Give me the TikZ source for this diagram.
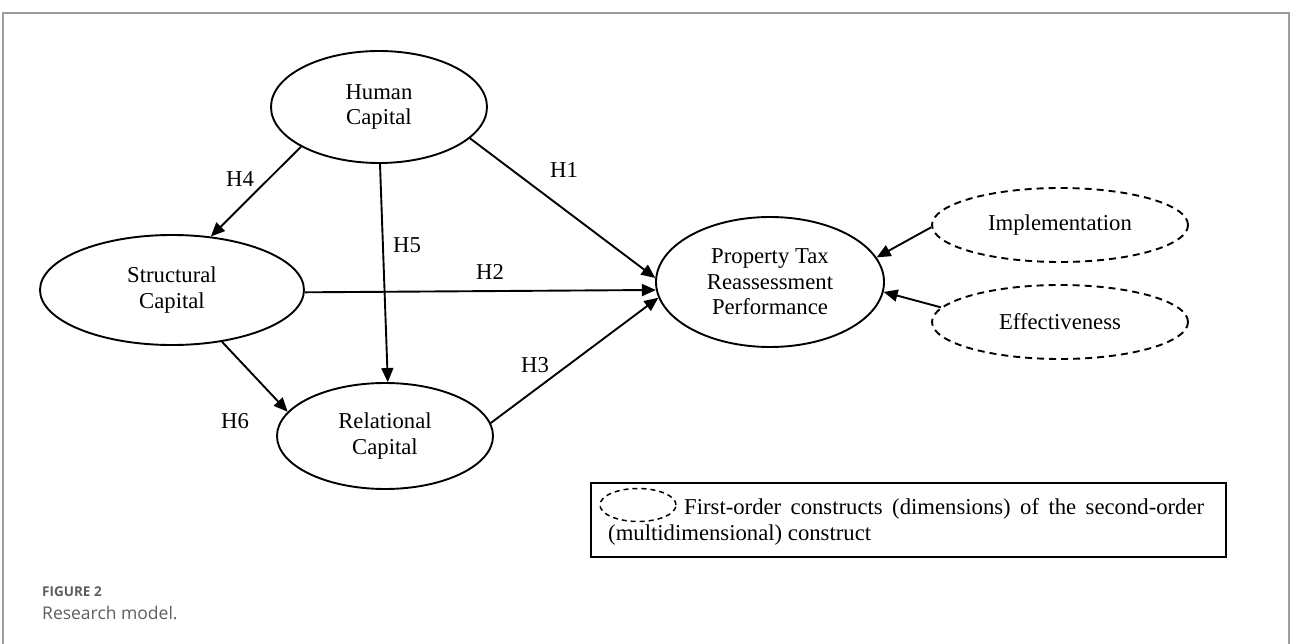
\documentclass[tikz,border=0pt]{standalone}
\usepackage{fontspec}
\setmainfont{Liberation Serif}
\newfontfamily\capfont{Open Sans}
\usetikzlibrary{shapes.geometric,arrows.meta}
\newcommand\mainfs{\fontsize{22.7}{25.5}\selectfont}
\definecolor{framegray}{HTML}{9C9C9C}
\definecolor{capgray}{HTML}{5E5E5E}
\begin{document}
\begin{tikzpicture}[x=1pt,y=-1pt,
  construct/.style={ellipse, draw, line width=1.9pt, inner sep=0pt, align=center, font=\mainfs},
  dimension/.style={construct, dash pattern=on 7pt off 5pt},
  link/.style={line width=1.9pt, -{Triangle[length=14pt,width=12pt]}},
  hyp/.style={font=\mainfs, inner sep=0pt}]
\useasboundingbox (0,0) rectangle (1293,644);
% outer frame
\draw[framegray, line width=1.5pt] (3,644) -- (3,13) -- (1289,13) -- (1289,644);

% constructs
\node[construct, minimum width=216pt, minimum height=112pt] (human) at (379,107) {Human\\Capital};
\node[construct, minimum width=264pt, minimum height=110pt] (struct) at (172,290) {Structural\\Capital};
\node[construct, minimum width=216pt, minimum height=106pt] (rel) at (385,436) {Relational\\Capital};
\node[construct, minimum width=228pt, minimum height=130pt] (prop) at (770,282) {Property Tax\\Reassessment\\Performance};
\node[dimension, minimum width=256pt, minimum height=74pt] (impl) at (1060,225) {Implementation};
\node[dimension, minimum width=256pt, minimum height=74pt] (eff) at (1060,322) {Effectiveness};

% hypotheses paths
\draw[link] (human.-19.8) -- (prop.178.5);
\draw[link] (struct.-1.3) -- (prop.184);
\draw[link] (rel.7.6) -- (prop.188.8);
\draw[link] (human.207.5) -- (struct.54.5);
\draw[link] (human.-89) -- (rel.87.8);
\draw[link] (struct.-46) -- (rel.166.8);
\draw[link] (impl.181.3) -- (prop.13);
\draw[link] (eff.173.5) -- (prop.-5.5);

% hypothesis labels
\node[hyp] (h1) at (564,170) {H1};
\node[hyp] (h2) at (490,272) {H2};
\node[hyp] (h3) at (535,365) {H3};
\node[hyp] (h4) at (240,179) {H4};
\node[hyp] (h5) at (407,245) {H5};
\node[hyp] (h6) at (235,421) {H6};

% legend
\node[draw, line width=1.9pt, minimum width=635pt, minimum height=74pt, inner sep=0pt] (legend) at (908.5,520) {};
\node[dimension, line width=1.5pt, dash pattern=on 5pt off 4pt, minimum width=76pt, minimum height=33pt] (legell) at (638,505) {};
\node[hyp, anchor=base west] (leg1) at (684,514) {\makebox[520pt][s]{First-order constructs (dimensions) of the second-order}};
\node[hyp, anchor=base west] (leg2) at (608,540) {(multidimensional) construct};

% caption
\node[anchor=base west, inner sep=0pt, text=capgray, font=\capfont\bfseries\fontsize{13.5}{16}\selectfont] (figlabel) at (42,596) {FIGURE 2};
\node[anchor=base west, inner sep=0pt, text=capgray, font=\capfont\fontsize{17.5}{20}\selectfont] (figcap) at (42,619) {Research model.};
\end{tikzpicture}
\end{document}
